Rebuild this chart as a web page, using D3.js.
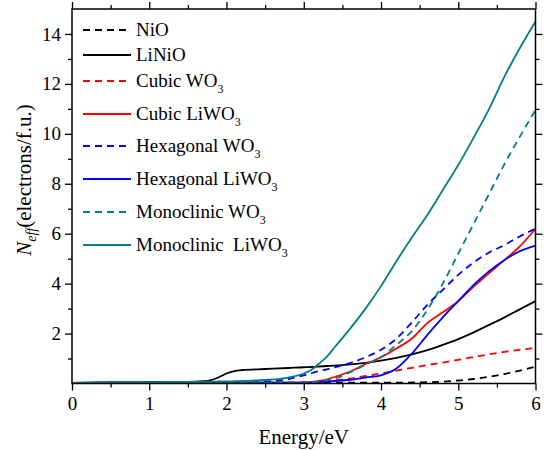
<!DOCTYPE html>
<html>
<head>
<meta charset="utf-8">
<script src="https://cdn.jsdelivr.net/npm/d3@7"></script>
<style>
  body { margin: 0; background: #fff; }
  svg text { font-family: "Liberation Serif", Tinos, "Times New Roman", "DejaVu Serif", serif; white-space: pre; }
</style>
</head>
<body>
<svg id="chart" width="547" height="450"></svg>
<script>
const energy = [0, 0.5, 1, 1.5, 1.7, 1.8, 1.9, 2, 2.1, 2.2, 2.5, 2.8, 3, 3.1, 3.2, 3.3, 3.4, 3.6, 3.8, 4, 4.2, 4.4, 4.6, 4.8, 5, 5.2, 5.4, 5.6, 5.8, 6];

const nio         = [0.02, 0.02, 0.03, 0.03, 0.03, 0.03, 0.03, 0.03, 0.03, 0.03, 0.03, 0.03, 0.03, 0.03, 0.03, 0.03, 0.03, 0.03, 0.03, 0.03, 0.03, 0.04, 0.05, 0.07, 0.12, 0.18, 0.27, 0.38, 0.52, 0.68];
const liNio       = [0.02, 0.04, 0.05, 0.06, 0.09, 0.14, 0.25, 0.4, 0.5, 0.54, 0.58, 0.62, 0.65, 0.66, 0.68, 0.7, 0.72, 0.77, 0.83, 0.92, 1.03, 1.17, 1.34, 1.55, 1.78, 2.05, 2.35, 2.65, 2.98, 3.3];
const cubicWo3    = [0.02, 0.03, 0.03, 0.03, 0.03, 0.03, 0.03, 0.03, 0.03, 0.03, 0.03, 0.03, 0.05, 0.06, 0.08, 0.1, 0.13, 0.2, 0.3, 0.4, 0.52, 0.63, 0.74, 0.84, 0.95, 1.06, 1.17, 1.27, 1.35, 1.43];
const cubicLiwo3  = [0.02, 0.03, 0.03, 0.03, 0.03, 0.03, 0.03, 0.03, 0.03, 0.03, 0.03, 0.03, 0.03, 0.05, 0.1, 0.17, 0.26, 0.48, 0.78, 1.05, 1.4, 1.8, 2.42, 2.85, 3.3, 3.88, 4.42, 4.95, 5.5, 6.2];
const hexWo3      = [0.02, 0.03, 0.04, 0.04, 0.04, 0.04, 0.04, 0.04, 0.04, 0.04, 0.08, 0.18, 0.33, 0.42, 0.5, 0.57, 0.65, 0.82, 1.05, 1.35, 1.8, 2.45, 3.15, 3.75, 4.35, 4.85, 5.25, 5.55, 5.9, 6.2];
const hexLiwo3    = [0.02, 0.03, 0.03, 0.03, 0.03, 0.03, 0.03, 0.03, 0.03, 0.03, 0.03, 0.03, 0.03, 0.04, 0.06, 0.08, 0.1, 0.15, 0.24, 0.33, 0.6, 1.2, 1.95, 2.65, 3.3, 3.95, 4.5, 4.95, 5.3, 5.52];
const monoWo3     = [0.02, 0.03, 0.03, 0.03, 0.03, 0.03, 0.03, 0.03, 0.03, 0.03, 0.03, 0.03, 0.03, 0.05, 0.08, 0.14, 0.2, 0.45, 0.75, 1.05, 1.55, 2.1, 2.95, 4.0, 5.2, 6.4, 7.6, 8.8, 9.9, 10.95];
const monoLiwo3   = [0.02, 0.04, 0.05, 0.06, 0.07, 0.07, 0.08, 0.08, 0.09, 0.1, 0.14, 0.24, 0.4, 0.55, 0.8, 1.08, 1.45, 2.2, 3.0, 3.9, 4.9, 5.85, 6.75, 7.75, 8.75, 9.85, 11.0, 12.3, 13.45, 14.5];

const seriesNames  = ["NiO", "LiNiO", "Cubic WO3", "Cubic LiWO3", "Hexagonal WO3", "Hexagonal LiWO3", "Monoclinic WO3", "Monoclinic  LiWO3"];
const seriesValues = [nio, liNio, cubicWo3, cubicLiwo3, hexWo3, hexLiwo3, monoWo3, monoLiwo3];
const seriesColors = ["#000000", "#000000", "#ff0000", "#ff0000", "#0000ff", "#0000ff", "#008080", "#008080"];
const seriesDashed = [true, false, true, false, true, false, true, false];

const xTicks = [0, 1, 2, 3, 4, 5, 6];
const yTicks = [2, 4, 6, 8, 10, 12, 14];

const width = 547;
const height = 450;
const margin = { top: 9, right: 11.5, bottom: 66.5, left: 72 };
const serif = '"Liberation Serif", Tinos, "Times New Roman", "DejaVu Serif", serif';

const svg = d3.select('#chart');

const x = d3.scaleLinear().domain([0, 6]).range([margin.left, width - margin.right]);
const y = d3.scaleLinear().domain([0, 15]).range([height - margin.bottom, margin.top]);

const minorX = d3.range(0.5, 6, 1);
const minorY = d3.range(1, 15, 2);

// curves
const line = d3.line()
    .x((d, i) => x(energy[i]))
    .y(d => y(d))
    .curve(d3.curveMonotoneX);

const curveGroup = svg.append('g').attr('class', 'curves');
seriesValues.forEach((vals, i) => {
    curveGroup.append('path')
        .datum(vals)
        .attr('d', line)
        .attr('fill', 'none')
        .attr('stroke', seriesColors[i])
        .attr('stroke-width', 1.8)
        .attr('stroke-dasharray', seriesDashed[i] ? '7,5' : null);
});

// axes: all ticks outward
function styleAxis(g) {
    g.attr('font-family', serif);
    g.select('.domain').remove();
    g.selectAll('line').attr('stroke', '#000').attr('stroke-width', 1.3);
    g.selectAll('text').attr('font-size', 19).attr('fill', '#000');
}

svg.append('g').attr('transform', `translate(0,${y(0)})`)
    .call(d3.axisBottom(x).tickValues(xTicks).tickSize(7).tickPadding(6).tickFormat(d3.format('d')))
    .call(styleAxis);
svg.append('g').attr('transform', `translate(0,${y(0)})`)
    .call(d3.axisBottom(x).tickValues(minorX).tickSize(4).tickFormat(''))
    .call(styleAxis);

svg.append('g').attr('transform', `translate(0,${y(15)})`)
    .call(d3.axisTop(x).tickValues(xTicks).tickSize(7).tickFormat(''))
    .call(styleAxis);
svg.append('g').attr('transform', `translate(0,${y(15)})`)
    .call(d3.axisTop(x).tickValues(minorX).tickSize(4).tickFormat(''))
    .call(styleAxis);

svg.append('g').attr('transform', `translate(${x(0)},0)`)
    .call(d3.axisLeft(y).tickValues(yTicks).tickSize(7).tickPadding(4).tickFormat(d3.format('d')))
    .call(styleAxis);
svg.append('g').attr('transform', `translate(${x(0)},0)`)
    .call(d3.axisLeft(y).tickValues(minorY).tickSize(4).tickFormat(''))
    .call(styleAxis);

svg.append('g').attr('transform', `translate(${x(6)},0)`)
    .call(d3.axisRight(y).tickValues(yTicks).tickSize(7).tickFormat(''))
    .call(styleAxis);
svg.append('g').attr('transform', `translate(${x(6)},0)`)
    .call(d3.axisRight(y).tickValues(minorY).tickSize(4).tickFormat(''))
    .call(styleAxis);

// frame
svg.append('rect')
    .attr('x', x(0)).attr('y', y(15))
    .attr('width', x(6) - x(0)).attr('height', y(0) - y(15))
    .attr('fill', 'none').attr('stroke', '#000').attr('stroke-width', 1.5);

// axis titles
svg.append('text')
    .attr('x', (x(0) + x(6)) / 2).attr('y', 444)
    .attr('text-anchor', 'middle').attr('font-size', 21)
    .text('Energy/eV');

const yTitle = svg.append('text')
    .attr('transform', 'translate(31,180) rotate(-90)')
    .attr('text-anchor', 'middle').attr('font-size', 21);
yTitle.append('tspan').attr('font-style', 'italic').text('N');
yTitle.append('tspan').attr('font-style', 'italic').attr('font-size', 14).attr('dy', 5).text('eff');
yTitle.append('tspan').attr('dy', -5).text('(electrons/f.u.)');

// legend
const legendY = [30, 55, 81, 114, 146, 179, 212, 245];
const legend = svg.append('g').attr('class', 'legend');
seriesNames.forEach((name, i) => {
    const ly = legendY[i];
    legend.append('line')
        .attr('x1', 83).attr('x2', 131).attr('y1', ly).attr('y2', ly)
        .attr('stroke', seriesColors[i]).attr('stroke-width', 1.8)
        .attr('stroke-dasharray', seriesDashed[i] ? '7,5' : null);
    const t = legend.append('text').attr('x', 136).attr('y', ly + 6).attr('font-size', 19);
    if (name.endsWith('WO3')) {
        t.append('tspan').text(name.slice(0, -1));
        t.append('tspan').attr('font-size', 12).attr('dy', 6).text('3');
    } else {
        t.text(name);
    }
});
</script>
</body>
</html>
